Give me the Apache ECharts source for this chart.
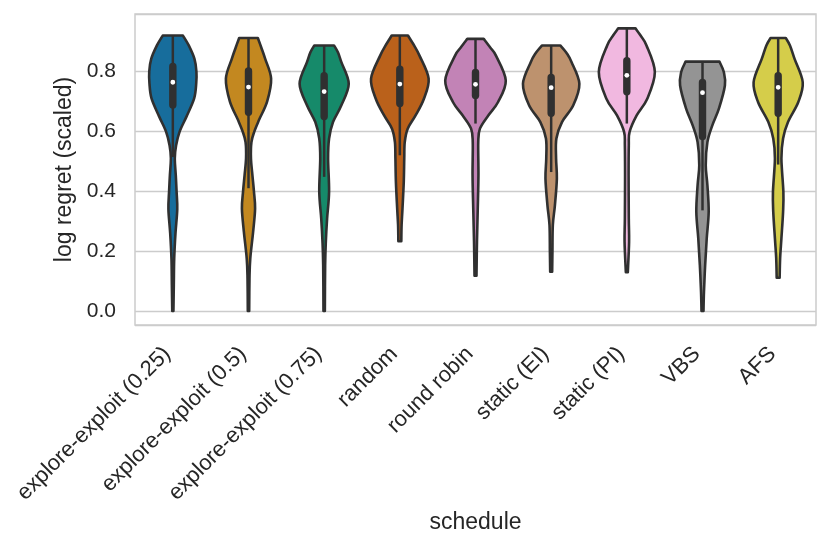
<!DOCTYPE html>
<html>
<head>
<meta charset="utf-8">
<title>log regret by schedule</title>
<script src="https://cdn.jsdelivr.net/npm/echarts@6/dist/echarts.min.js"></script>
<style>
    html, body { margin: 0; padding: 0; background: #fff; }
    #chart { width: 830px; height: 547px; }
</style>
</head>
<body>
<div id="chart"></div>
<script>
var categories = [
    'explore-exploit (0.25)', 'explore-exploit (0.5)', 'explore-exploit (0.75)',
    'random', 'round robin', 'static (EI)', 'static (PI)', 'VBS', 'AFS'
];

// box statistics
var q1 = [0.676, 0.651, 0.637, 0.681, 0.707, 0.648, 0.720, 0.570, 0.648];
var medians = [0.764, 0.748, 0.733, 0.758, 0.757, 0.746, 0.787, 0.729, 0.747];
var q3 = [0.829, 0.814, 0.798, 0.820, 0.809, 0.792, 0.848, 0.776, 0.798];
var whiskerLow = [0.514, 0.410, 0.448, 0.520, 0.626, 0.464, 0.626, 0.336, 0.489];
var whiskerHigh = [0.920, 0.912, 0.887, 0.920, 0.909, 0.887, 0.944, 0.833, 0.912];

// kde outline of every violin: levels (log regret) and relative density
var kdeLevels = [
    [0.00, 0.087, 0.175, 0.26, 0.34, 0.40, 0.453, 0.51, 0.553, 0.60, 0.65, 0.71, 0.76, 0.80, 0.842, 0.887, 0.92],
    [0.00, 0.109, 0.175, 0.264, 0.342, 0.40, 0.453, 0.51, 0.564, 0.60, 0.64, 0.70, 0.776, 0.842, 0.88, 0.912],
    [0.00, 0.153, 0.231, 0.309, 0.398, 0.509, 0.576, 0.631, 0.687, 0.759, 0.831, 0.864, 0.887],
    [0.233, 0.287, 0.342, 0.431, 0.509, 0.564, 0.609, 0.653, 0.709, 0.776, 0.853, 0.887, 0.92],
    [0.118, 0.231, 0.342, 0.453, 0.564, 0.609, 0.653, 0.698, 0.77, 0.853, 0.88, 0.909],
    [0.131, 0.20, 0.287, 0.353, 0.442, 0.509, 0.576, 0.631, 0.687, 0.759, 0.831, 0.86, 0.887],
    [0.129, 0.231, 0.309, 0.453, 0.553, 0.598, 0.653, 0.709, 0.798, 0.887, 0.92, 0.944],
    [0.00, 0.064, 0.153, 0.242, 0.331, 0.42, 0.487, 0.564, 0.62, 0.676, 0.753, 0.798, 0.833],
    [0.111, 0.176, 0.242, 0.331, 0.398, 0.509, 0.576, 0.631, 0.698, 0.764, 0.842, 0.887, 0.912]
];
var kdeDensity = [
    [0.6, 1.0, 1.4, 2.7, 4.5, 3.8, 3.0, 2.0, 3.3, 7.0, 14.0, 21.7, 23.8, 24.0, 22.0, 16.2, 10.3],
    [0.7, 1.0, 1.8, 4.7, 6.7, 5.5, 4.0, 2.5, 3.0, 6.0, 11.0, 19.0, 23.0, 17.0, 13.0, 9.5],
    [0.7, 1.0, 1.7, 3.0, 5.0, 4.0, 5.0, 9.0, 17.5, 25.0, 17.5, 14.0, 10.0],
    [1.5, 1.8, 2.7, 4.0, 4.5, 5.0, 8.0, 16.0, 24.5, 29.3, 20.0, 14.5, 8.3],
    [1.0, 1.5, 2.3, 3.0, 2.8, 4.5, 13.0, 23.0, 30.8, 20.8, 15.0, 8.3],
    [1.0, 1.3, 1.7, 3.8, 5.8, 5.0, 5.3, 11.0, 22.5, 28.7, 20.8, 16.0, 9.2],
    [1.0, 2.3, 2.0, 1.8, 2.0, 2.8, 10.0, 20.8, 28.5, 20.0, 14.0, 8.8],
    [1.0, 1.5, 2.7, 4.3, 6.3, 5.0, 3.3, 5.0, 10.0, 16.7, 22.8, 21.7, 17.2],
    [1.5, 2.0, 3.3, 5.0, 5.3, 3.3, 5.0, 10.0, 20.5, 25.0, 16.7, 12.0, 7.7]
];

var yTicks = [0, 0.2, 0.4, 0.6, 0.8];

var colors = ['#176d9c', '#c38820', '#168a6a', '#ba611b', '#c283b6',
              '#bd926e', '#f1b8e0', '#949494', '#d5cd4a'];
var lineColor = '#303030';
var textColor = '#262626';
var fontFamily = '"Liberation Sans", Arial, sans-serif';

var maxDensity = Math.max.apply(null, kdeDensity.map(function (d) { return Math.max.apply(null, d); }));

// catmull-rom through the points, as cubic bezier commands
function spline(pts) {
    var s = '';
    for (var k = 0; k < pts.length - 1; k++) {
        var p0 = pts[Math.max(k - 1, 0)], p1 = pts[k], p2 = pts[k + 1];
        var p3 = pts[Math.min(k + 2, pts.length - 1)];
        var c1 = [p1[0] + (p2[0] - p0[0]) / 6, p1[1] + (p2[1] - p0[1]) / 6];
        var c2 = [p2[0] - (p3[0] - p1[0]) / 6, p2[1] - (p3[1] - p1[1]) / 6];
        s += 'C' + c1[0] + ',' + c1[1] + ' ' + c2[0] + ',' + c2[1] + ' ' + p2[0] + ',' + p2[1];
    }
    return s;
}

function renderViolin(params, api) {
    var i = api.value(0);
    var cx = api.coord([i, 0])[0];
    var band = api.size([1, 0])[0];
    var scale = band * 0.4 / maxDensity;
    var lv = kdeLevels[i], dn = kdeDensity[i];
    var right = [], left = [];
    for (var k = 0; k < lv.length; k++) {
        var y = api.coord([i, lv[k]])[1];
        right.push([cx + dn[k] * scale, y]);
        left.push([cx - dn[k] * scale, y]);
    }
    left.reverse();
    var d = 'M' + right[0][0] + ',' + right[0][1] + spline(right) +
        'L' + left[0][0] + ',' + left[0][1] + spline(left) + 'Z';

    var yLow = api.coord([i, whiskerLow[i]])[1];
    var yHigh = api.coord([i, whiskerHigh[i]])[1];
    var yQ1 = api.coord([i, q1[i]])[1];
    var yQ3 = api.coord([i, q3[i]])[1];
    var yMed = api.coord([i, medians[i]])[1];

    return {
        type: 'group',
        children: [
            {
                type: 'path',
                shape: { pathData: d },
                style: { fill: colors[i], stroke: lineColor, lineWidth: 2.6, lineJoin: 'round' }
            },
            {
                type: 'line',
                shape: { x1: cx, y1: yLow, x2: cx, y2: yHigh },
                style: { stroke: lineColor, lineWidth: 2.5 }
            },
            {
                type: 'rect',
                shape: { x: cx - 3.7, y: yQ3, width: 7.4, height: yQ1 - yQ3, r: 3.7 },
                style: { fill: lineColor }
            },
            {
                type: 'circle',
                shape: { cx: cx, cy: yMed, r: 2.4 },
                style: { fill: '#ffffff' }
            }
        ]
    };
}

var myChart = echarts.init(document.getElementById('chart'));
var option = {
    backgroundColor: '#ffffff',
    animation: false,
    textStyle: { fontFamily: fontFamily },
    grid: {
        left: 135, right: 14, top: 14, bottom: 222,
        show: true, borderColor: '#cccccc', borderWidth: 1.5
    },
    xAxis: {
        type: 'category',
        data: categories,
        boundaryGap: true,
        name: 'schedule',
        nameLocation: 'middle',
        nameGap: 179,
        nameTextStyle: { fontSize: 23, color: textColor, fontFamily: fontFamily },
        axisLine: { show: false },
        axisTick: { show: false },
        splitLine: { show: false },
        axisLabel: {
            interval: 0,
            rotate: 45,
            margin: 20,
            padding: [0, 8, 0, 0],
            fontSize: 22,
            color: textColor,
            fontFamily: fontFamily
        }
    },
    yAxis: {
        type: 'value',
        min: -0.047,
        max: 0.992,
        minInterval: 0.2,
        maxInterval: 0.2,
        name: 'log regret (scaled)',
        nameLocation: 'middle',
        nameGap: 58,
        nameTextStyle: { fontSize: 23, color: textColor, fontFamily: fontFamily },
        axisLine: { show: false },
        axisTick: { show: false },
        splitLine: { lineStyle: { color: '#cccccc', width: 1.3 } },
        axisLabel: {
            margin: 19,
            fontSize: 21,
            color: textColor,
            fontFamily: fontFamily,
            showMinLabel: false,
            showMaxLabel: false,
            formatter: function (v) {
                for (var t = 0; t < yTicks.length; t++) {
                    if (Math.abs(v - yTicks[t]) < 1e-6) return yTicks[t].toFixed(1);
                }
                return '';
            }
        }
    },
    series: [
        {
            type: 'custom',
            renderItem: renderViolin,
            encode: { x: 0 },
            data: categories.map(function (c, i) { return [i]; })
        }
    ]
};

option && myChart.setOption(option);
</script>
</body>
</html>
